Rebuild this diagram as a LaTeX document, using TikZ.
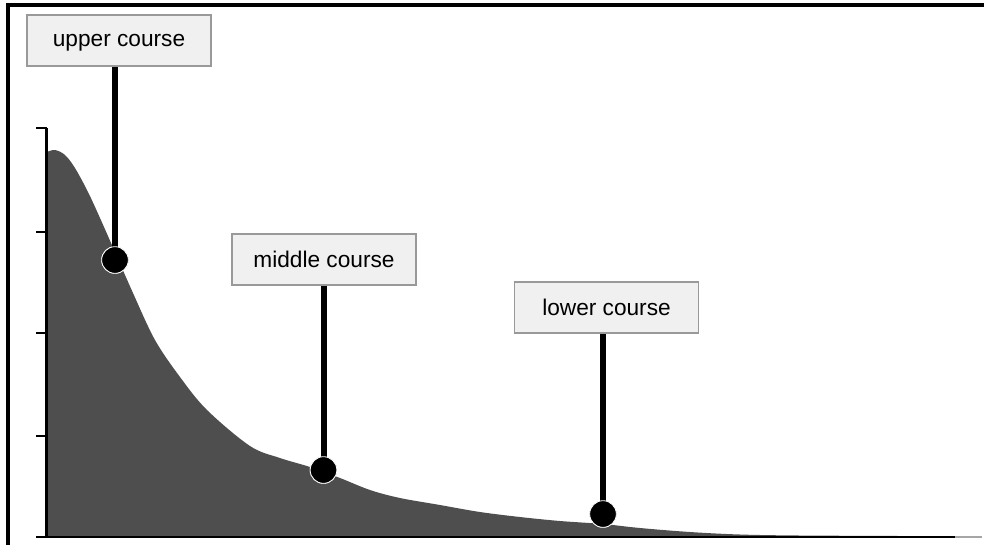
\documentclass[tikz,border=0pt]{standalone}
\usepackage{fontspec}
\setmainfont{Liberation Sans}
\usetikzlibrary{calc}
\definecolor{boxfill}{HTML}{F0F0F0}
\definecolor{boxline}{HTML}{999999}
\definecolor{land}{HTML}{4E4E4E}
\tikzset{
  lbl/.style={draw=boxline, line width=1.2pt, fill=boxfill, minimum width=138pt, minimum height=38pt, inner sep=0pt, text depth=0pt, font=\fontsize{17}{19}\selectfont},
  dotmark/.style={circle, fill=black, draw=white, line width=0.6pt, minimum size=20pt, inner sep=0pt},
  stem/.style={line width=4.5pt, black},
  axisline/.style={line width=2.2pt, black},
}
\begin{document}
\begin{tikzpicture}[x=0.75pt, y=-0.75pt]
\useasboundingbox (0,0) rectangle (984,544);
% frame (cropped at right and bottom)
\draw[line width=2.4pt] (8,548) -- (8,5) -- (990,5);
% land profile
\fill[land] (47,537) -- plot[smooth, tension=0.55] coordinates {
 (47,152) (55,150) (65,155) (75,168) (88,192) (100,218) (115,252) (133,293)
 (155,340) (180,377) (207,410) (250,446)
 (280,458) (310,467) (340,478) (370,490) (400,498) (440,505) (480,512)
 (520,517) (560,521) (603,524) (640,528) (690,532) (740,534.5) (800,535.5) (900,536) (975,536.5)}
 -- (975,537) -- cycle;
% axes
\draw[axisline] (46.5,128) -- (46.5,537);
\draw[axisline] (36,537) -- (955,537);
\draw[line width=2.2pt, gray!70] (955,537) -- (982,537);
\foreach \yy in {128,232,333,436} \draw[line width=2pt] (36,\yy) -- (46.5,\yy);
% labels
\node[lbl] (u) at (119,40.5) {upper course};
\node[lbl] (m) at (324,259.5) {middle course};
\node[lbl] (l) at (606.5,307.5) {lower course};
% markers
\node[dotmark] (du) at (115,260) {};
\node[dotmark] (dm) at (323.5,470) {};
\node[dotmark] (dl) at (603,514) {};
\draw[stem] (du.center) -- (du.center |- u.south);
\draw[stem] (dm.center) -- (dm.center |- m.south);
\draw[stem] (dl.center) -- (dl.center |- l.south);
\node[dotmark] at (du) {};
\node[dotmark] at (dm) {};
\node[dotmark] at (dl) {};
\end{tikzpicture}
\end{document}
